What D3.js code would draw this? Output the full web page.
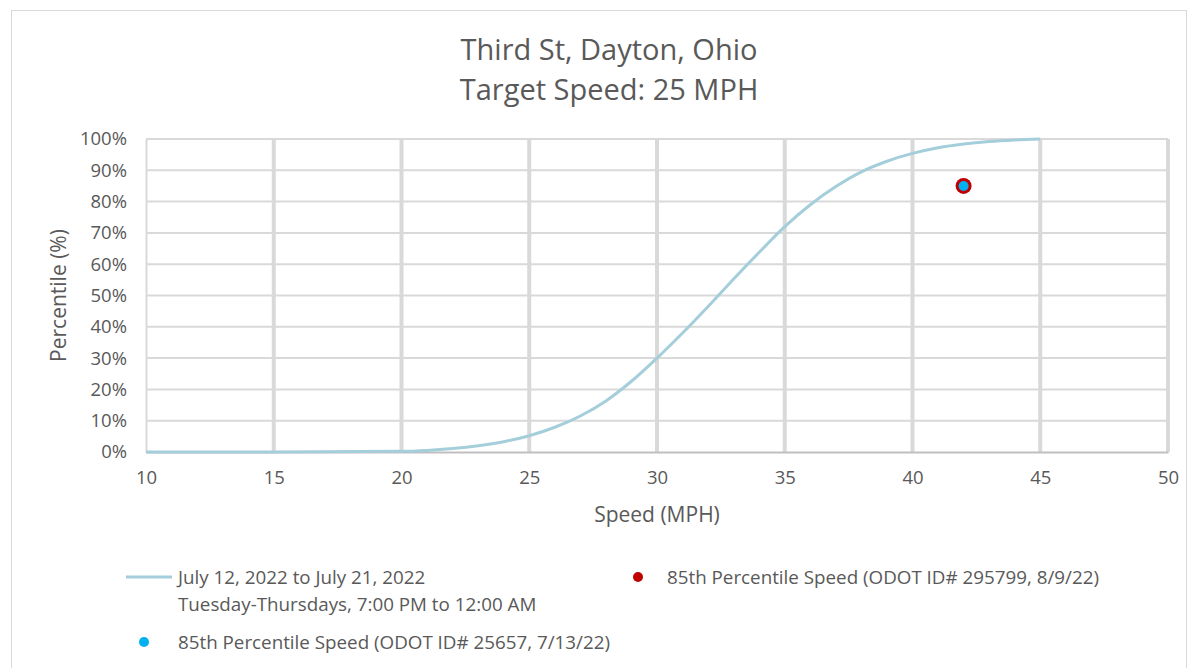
<!DOCTYPE html>
<html>
<head>
<meta charset="utf-8">
<script src="https://cdn.jsdelivr.net/npm/d3@7"></script>
<style>
  body { margin: 0; background: #fff; }
  text { font-family: "Open Sans", "Noto Sans", sans-serif; fill: #595959; }
</style>
</head>
<body>
<script>
// speed (mph) vs cumulative percentile
const speeds = [10, 15, 20, 21, 22, 23, 24, 25, 26, 27, 28, 29, 30, 31, 32, 33, 34, 35, 36, 37, 38, 39, 40, 41, 42, 43, 44, 45]
const percentiles = [0, 0, 0.002, 0.005, 0.011, 0.02, 0.033, 0.052, 0.079, 0.115, 0.163, 0.226, 0.30, 0.38, 0.465, 0.553, 0.638, 0.72, 0.79, 0.848, 0.895, 0.929, 0.954, 0.972, 0.984, 0.992, 0.997, 1.0]
const odot_red = { speed: 42, pct: 0.85, label: '85th Percentile Speed (ODOT ID# 295799, 8/9/22)' }
const odot_blue = { speed: 42, pct: 0.85, label: '85th Percentile Speed (ODOT ID# 25657, 7/13/22)' }
const x_ticks = [10, 15, 20, 25, 30, 35, 40, 45, 50]
const y_ticks = [0, 0.1, 0.2, 0.3, 0.4, 0.5, 0.6, 0.7, 0.8, 0.9, 1.0]

const W = 1193, H = 668
const svg = d3.select('body').append('svg').attr('width', W).attr('height', H)

// outer chart frame
svg.append('rect').attr('x', 11.5).attr('y', 10.5).attr('width', 1175).attr('height', 670)
  .attr('fill', 'none').attr('stroke', '#d9d9d9')

const x = d3.scaleLinear().domain([10, 50]).range([146, 1168])
const y = d3.scaleLinear().domain([0, 1]).range([452, 139])

// title
const title = svg.append('text').attr('text-anchor', 'middle').attr('font-size', 29)
title.append('tspan').attr('x', 609).attr('y', 60).text('Third St, Dayton, Ohio')
title.append('tspan').attr('x', 609).attr('y', 100).text('Target Speed: 25 MPH')

// gridlines
svg.append('g').selectAll('line').data(y_ticks.slice(1)).join('line')
  .attr('x1', x(10)).attr('x2', x(50)).attr('y1', d => y(d)).attr('y2', d => y(d))
  .attr('stroke', '#d9d9d9').attr('stroke-width', 2)
svg.append('g').selectAll('line').data(x_ticks.slice(1)).join('line')
  .attr('x1', d => x(d)).attr('x2', d => x(d)).attr('y1', y(0)).attr('y2', y(1))
  .attr('stroke', '#d9d9d9').attr('stroke-width', 4)

// axes
const x_axis = svg.append('g').attr('transform', `translate(0,${y(0)})`)
  .call(d3.axisBottom(x).tickValues(x_ticks).tickSize(0).tickPadding(19))
x_axis.select('.domain').attr('stroke', '#bfbfbf').attr('stroke-width', 2)
x_axis.selectAll('text').attr('font-size', 18.5).attr('fill', '#595959')

const y_axis = svg.append('g').attr('transform', `translate(${x(10)},0)`)
  .call(d3.axisLeft(y).tickValues(y_ticks).tickFormat(d3.format('.0%')).tickSize(0).tickPadding(19))
y_axis.select('.domain').attr('stroke', '#d9d9d9').attr('stroke-width', 2)
y_axis.selectAll('text').attr('font-size', 18.5).attr('fill', '#595959')

// axis titles
svg.append('text').attr('x', x(30)).attr('y', 522).attr('text-anchor', 'middle')
  .attr('font-size', 21).text('Speed (MPH)')
svg.append('text').attr('transform', `translate(66,${y(0.5)}) rotate(-90)`)
  .attr('text-anchor', 'middle').attr('font-size', 21).text('Percentile (%)')

// cumulative curve
const line = d3.line().x((d, i) => x(speeds[i])).y(d => y(d)).curve(d3.curveMonotoneX)
svg.append('path').datum(percentiles).attr('d', line)
  .attr('fill', 'none').attr('stroke', '#a5cedb').attr('stroke-width', 3)

// 85th percentile points
svg.append('circle').attr('cx', x(odot_red.speed)).attr('cy', y(odot_red.pct)).attr('r', 8)
  .attr('fill', '#c00000')
svg.append('circle').attr('cx', x(odot_blue.speed)).attr('cy', y(odot_blue.pct)).attr('r', 5)
  .attr('fill', '#00b0f0')

// legend
const legend = svg.append('g')
legend.append('line').attr('x1', 126).attr('x2', 172).attr('y1', 577).attr('y2', 577)
  .attr('stroke', '#a5cedb').attr('stroke-width', 3)
const lt = legend.append('text').attr('font-size', 18.8)
lt.append('tspan').attr('x', 178).attr('y', 584).text('July 12, 2022 to July 21, 2022')
lt.append('tspan').attr('x', 178).attr('y', 611).text('Tuesday-Thursdays, 7:00 PM to 12:00 AM')
legend.append('circle').attr('cx', 638).attr('cy', 577).attr('r', 5).attr('fill', '#c00000')
legend.append('text').attr('x', 667).attr('y', 584).attr('font-size', 18.8).text(odot_red.label)
legend.append('circle').attr('cx', 144).attr('cy', 642).attr('r', 5).attr('fill', '#00b0f0')
legend.append('text').attr('x', 178).attr('y', 649).attr('font-size', 18.8).text(odot_blue.label)
</script>
</body>
</html>
